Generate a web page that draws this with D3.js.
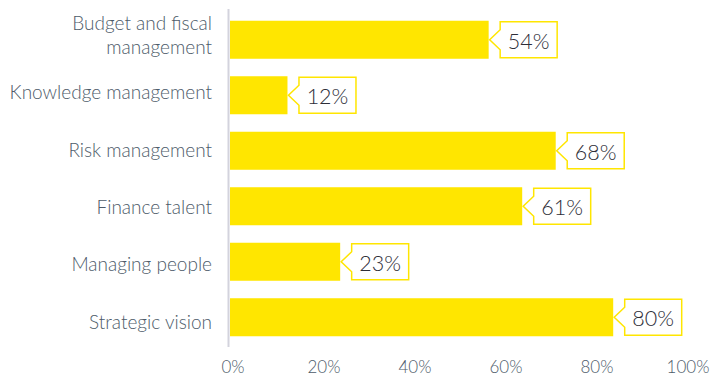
<!DOCTYPE html>
<html>
<head>
<meta charset="utf-8">
<script src="https://cdn.jsdelivr.net/npm/d3@7"></script>
<style>
  html, body { margin: 0; padding: 0; background: #fff; }
  svg { display: block; font-family: Lato, "Noto Sans", sans-serif; font-weight: 300; }
</style>
</head>
<body>
<svg id="chart" width="710" height="379"></svg>
<script>
// Share of respondents naming each capability
const categories = [
  ["Budget and fiscal", "management"],
  ["Knowledge management"],
  ["Risk management"],
  ["Finance talent"],
  ["Managing people"],
  ["Strategic vision"]
];
const values = [54, 12, 68, 61, 23, 80];
const tickValues = [0, 20, 40, 60, 80, 100];
const tickLabels = ["0%", "20%", "40%", "60%", "80%", "100%"];

const svg = d3.select("#chart");
const idx = d3.range(categories.length);

const YELLOW = "#ffe600";
const LABEL = "#4d5b69";
const DARK = "#2e2e38";

// bar length scale and the positions used for axis annotation
const xBar = d3.scaleLinear().domain([0, 100]).range([230, 709]);
const xAxisScale = d3.scaleLinear().domain([0, 100]).range([233, 688]);

const yBar = d3.scaleBand().domain(idx).range([12, 345])
  .paddingInner(0.315).paddingOuter(0.1575);
const yLabel = d3.scaleBand().domain(idx).range([6, 350]);

// vertical baseline
svg.append("line")
  .attr("x1", 228.5).attr("x2", 228.5)
  .attr("y1", 9).attr("y2", 347)
  .attr("stroke", "#d3d3dd").attr("stroke-width", 2);

// bars
svg.append("g").selectAll("rect").data(idx).join("rect")
  .attr("x", xBar(0))
  .attr("y", i => yBar(i))
  .attr("width", i => xBar(values[i]) - xBar(0))
  .attr("height", yBar.bandwidth())
  .attr("fill", YELLOW);

// value callouts
const callouts = svg.append("g").selectAll("g").data(idx).join("g");
callouts.append("path")
  .attr("d", i => {
    const end = xBar(values[i]);
    const top = yBar(i) + 1, bot = yBar(i) + yBar.bandwidth() - 1;
    const cy = yBar(i) + yBar.bandwidth() / 2;
    const left = end + 11.5, right = left + 57;
    return `M${left},${top}H${right}V${bot}H${left}V${cy + 10}L${end + 1},${cy}L${left},${cy - 10}Z`;
  })
  .attr("fill", "#fff")
  .attr("stroke", YELLOW)
  .attr("stroke-width", 1.5);
callouts.append("text")
  .attr("x", i => xBar(values[i]) + 11.5 + 28.5)
  .attr("y", i => yBar(i) + yBar.bandwidth() / 2 + 9)
  .attr("text-anchor", "middle")
  .attr("font-size", 21.5)
  .attr("fill", DARK)
  .text(i => values[i] + "%");

// category labels
const cat = svg.append("g").selectAll("text").data(idx).join("text")
  .attr("text-anchor", "end")
  .attr("font-size", 19)
  .attr("fill", LABEL);
cat.each(function(i) {
  const lines = categories[i];
  const c = yLabel(i) + yLabel.bandwidth() / 2;
  d3.select(this).selectAll("tspan").data(lines).join("tspan")
    .attr("x", 212)
    .attr("y", (d, k) => c + 7.2 - (lines.length - 1) * 12 + k * 24)
    .text(d => d);
});

// x tick labels
svg.append("g").selectAll("text").data(tickValues).join("text")
  .attr("x", d => xAxisScale(d))
  .attr("y", 373)
  .attr("text-anchor", "middle")
  .attr("font-size", 17)
  .attr("fill", LABEL)
  .text((d, k) => tickLabels[k]);
</script>
</body>
</html>
